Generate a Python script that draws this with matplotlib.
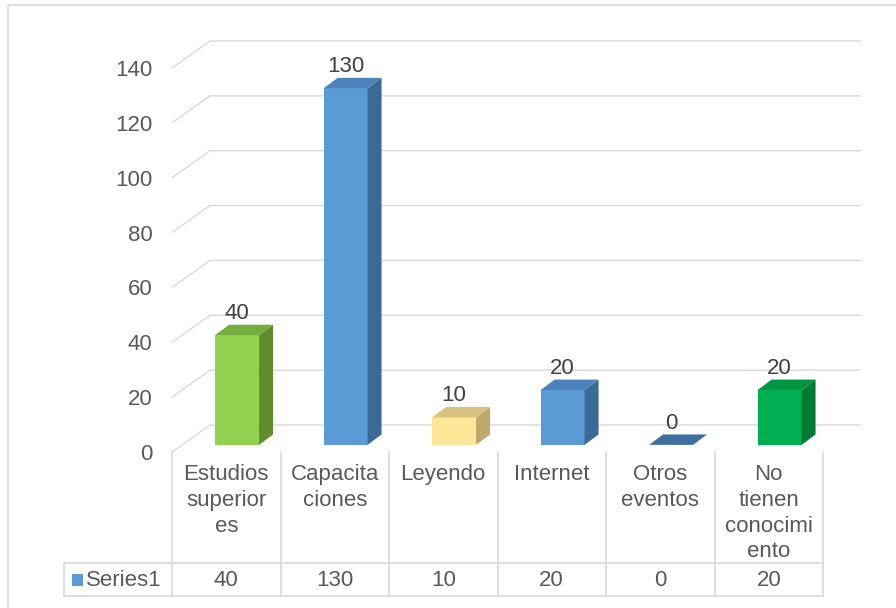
import numpy as np
import matplotlib
matplotlib.use("Agg")
import matplotlib.pyplot as plt
from matplotlib.patches import Polygon, Rectangle

plt.rcParams['font.family'] = ['Liberation Sans', 'DejaVu Sans']

# chart data
categories = ["Estudios\nsuperior\nes", "Capacita\nciones", "Leyendo", "Internet",
              "Otros\neventos", "No\ntienen\nconocimi\nento"]
values = [40, 130, 10, 20, 0, 20]
series_name = "Series1"
y_ticks = [0, 20, 40, 60, 80, 100, 120, 140]

# front / side / top shades for each column
face_colors = ["#92D050", "#5B9BD5", "#FFE699", "#5B9BD5", "#5B9BD5", "#00B050"]
side_colors = ["#5F8C2C", "#3B6A97", "#BFA96A", "#3B6A97", "#3B6A97", "#007A35"]
top_colors = ["#74AE3C", "#4A82B9", "#D7C27E", "#4A82B9", "#3E6F9E", "#009642"]

TEXT = "#595959"
GRID = "#D9D9D9"
FS = 16

W_PX, H_PX = 896, 608
COL_PX = 108.5          # width of one category slot
X0_PX, Y0_PX = 172, 452  # front-left corner of the floor
PX_PER_UNIT = 2.743

# oblique depth of the floor and of the columns (data units)
DX, DY = 0.35, 9.84
FX, FY = 0.10, 2.6
BW = 0.405
BX, BY = 0.129, 3.8

fig = plt.figure(figsize=(W_PX / 100, H_PX / 100), dpi=100)

# pixel overlay for the frame and the data table
ov = fig.add_axes([0, 0, 1, 1])
ov.set_xlim(0, W_PX)
ov.set_ylim(H_PX, 0)
ov.axis("off")

ymax = max(y_ticks) + DY
ax_w = (len(categories) + DX) * COL_PX
ax_h = ymax * PX_PER_UNIT
ax = fig.add_axes([X0_PX / W_PX, (H_PX - Y0_PX) / H_PX, ax_w / W_PX, ax_h / H_PX])
ax.set_xlim(0, len(categories) + DX)
ax.set_ylim(0, ymax)
ax.patch.set_alpha(0)
for s in ax.spines.values():
    s.set_visible(False)
ax.set_xticks([])
ax.set_yticks(y_ticks)
ax.set_yticklabels([str(t) for t in y_ticks], fontsize=FS, color=TEXT)
ax.tick_params(axis="y", length=0, pad=14)

# gridlines: short diagonal on the side wall, then along the back wall
n = len(categories)
for t in y_ticks:
    ax.plot([0, DX, n + DX], [t, t + DY, t + DY], color=GRID, lw=1.0,
            zorder=1, clip_on=False, solid_capstyle="butt")

# 3d columns
for i, v in enumerate(values):
    x0 = i + 0.5 - BW / 2 + FX
    x1 = x0 + BW
    y0 = FY
    y1 = v + FY
    if v > 0:
        ax.add_patch(Polygon([(x0, y0), (x1, y0), (x1, y1), (x0, y1)],
                             closed=True, fc=face_colors[i], ec="none", zorder=3))
        ax.add_patch(Polygon([(x1, y0), (x1 + BX, y0 + BY), (x1 + BX, y1 + BY), (x1, y1)],
                             closed=True, fc=side_colors[i], ec="none", zorder=3))
    ax.add_patch(Polygon([(x0, y1), (x1, y1), (x1 + BX, y1 + BY), (x0 + BX, y1 + BY)],
                         closed=True, fc=top_colors[i], ec="none", zorder=3))
    ax.annotate(str(v), (x0 + BW / 2, y1 + BY), xytext=(0, 0.5), textcoords="offset points",
                ha="center", va="bottom", fontsize=FS, color="#404040", zorder=4)

# outer chart frame
ov.add_patch(Rectangle((8, 5), W_PX, H_PX, fill=False, ec=GRID, lw=1.2))

# data table
row_top, row_mid, row_bot = Y0_PX, 563, 596
edges = [X0_PX + COL_PX * k for k in range(n + 1)]
for xe in edges:
    ov.plot([xe, xe], [row_top, row_bot], color=GRID, lw=1.2)
ov.plot([64, edges[-1]], [row_mid, row_mid], color=GRID, lw=1.2)
ov.plot([64, edges[-1]], [row_bot, row_bot], color=GRID, lw=1.2)
ov.plot([64, 64], [row_mid, row_bot], color=GRID, lw=1.2)

for k, (lab, v) in enumerate(zip(categories, values)):
    cx = (edges[k] + edges[k + 1]) / 2
    ov.text(cx, 464, lab, ha="center", va="top", fontsize=FS, color=TEXT,
            linespacing=1.3)
    ov.text(cx, (row_mid + row_bot) / 2 + 1, str(v), ha="center", va="center",
            fontsize=FS, color=TEXT)

ov.add_patch(Rectangle((72, 574), 11, 12, fc="#5B9BD5", ec="none"))
ov.text(86, (row_mid + row_bot) / 2 + 1, series_name, ha="left", va="center",
        fontsize=FS, color=TEXT)

fig.savefig("out.png", dpi=100, facecolor="white")
